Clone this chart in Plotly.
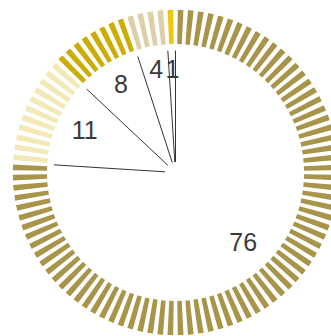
import plotly.graph_objects as go

# ---- data ----
categories = ["A", "B", "C", "D", "E"]
values = [76, 11, 8, 4, 1]
labels = ["76", "11", "8", "4", "1"]
colors = ["#A8954A", "#F3E9B6", "#CCAD04", "#DCD0A9", "#EEC70B"]

total = sum(values)
deg_per_unit = 360.0 / total

# ring of unit segments
seg_theta, seg_color = [], []
k = 0
for v, c in zip(values, colors):
    for _ in range(v):
        seg_theta.append((k + 0.5) * deg_per_unit)
        seg_color.append(c)
        k += 1

# boundaries and mid angles
bounds, mids = [], []
cum = 0
for v in values:
    bounds.append(cum * deg_per_unit)
    mids.append((cum + v / 2) * deg_per_unit)
    cum += v

W, H = 340, 336
R_OUT, R_IN = 163, 128.5
CX, CY = 175.5, 172.5  # px from top-left

fig = go.Figure()
fig.add_trace(go.Barpolar(
    theta=seg_theta, r=[R_OUT - R_IN] * len(seg_theta), base=R_IN,
    width=2.0, marker=dict(color=seg_color, line=dict(width=0)),
    hoverinfo="skip", showlegend=False,
))
for b in bounds:
    fig.add_trace(go.Scatterpolar(
        theta=[b, b], r=[10.5, 122], mode="lines",
        line=dict(color="#333333", width=1), hoverinfo="skip", showlegend=False,
    ))
fig.add_trace(go.Scatterpolar(
    theta=mids, r=[99, 99, 102, 103, 101], mode="text", text=labels,
    textposition="middle center",
    textfont=dict(family="Liberation Sans, Arial, sans-serif", size=25, color="#3a3a3a"),
    hoverinfo="skip", showlegend=False,
))

fig.update_layout(
    width=W, height=H, autosize=False,
    margin=dict(l=0, r=0, t=0, b=0),
    paper_bgcolor="white",
    polar=dict(
        domain=dict(x=[(CX - R_OUT) / W, (CX + R_OUT) / W],
                    y=[(H - CY - R_OUT) / H, (H - CY + R_OUT) / H]),
        bgcolor="white",
        radialaxis=dict(visible=False, range=[0, R_OUT]),
        angularaxis=dict(visible=False, rotation=90, direction="clockwise"),
        bargap=0,
    ),
)

fig.write_html(
    "out.html",
    config={"displayModeBar": False},
    post_script="document.body.style.margin='0';document.body.style.overflow='hidden';",
)
